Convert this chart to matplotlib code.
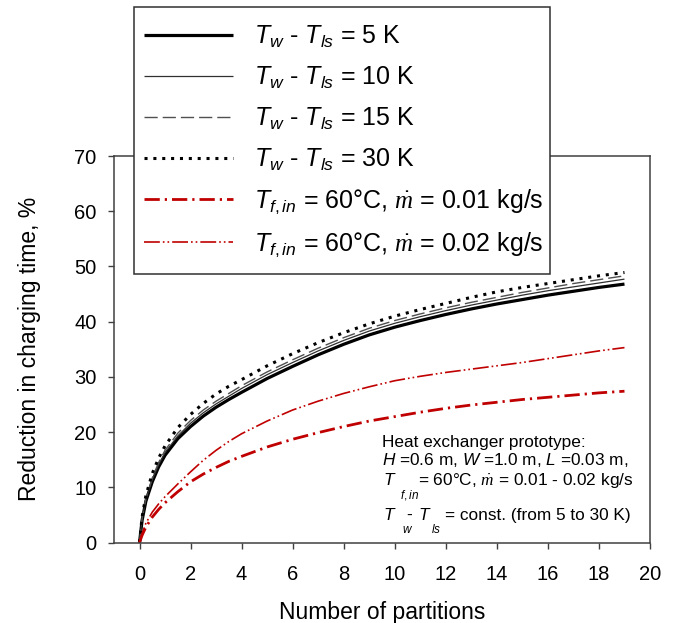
import matplotlib

matplotlib.use("Agg")
import matplotlib.pyplot as plt
from matplotlib.lines import Line2D
from matplotlib.patches import Rectangle

plt.rcParams["font.family"] = ["Liberation Sans", "DejaVu Sans"]
plt.rcParams["mathtext.fontset"] = "custom"
plt.rcParams["mathtext.rm"] = "Liberation Sans"
plt.rcParams["mathtext.it"] = "Liberation Sans:italic"
plt.rcParams["mathtext.cal"] = "Liberation Serif:italic"

# Number of partitions and the reduction in charging time (%) per case
partitions = [0, 0.1, 0.25, 0.5, 0.75, 1, 1.5, 2, 2.5, 3, 3.5, 4, 5, 6, 7, 8, 9, 10,
              11, 12, 13, 14, 15, 16, 17, 18, 19]
dt_5K = [0, 4.0, 7.5, 11.0, 13.7, 15.8, 18.8, 21.0, 22.9, 24.5, 25.9, 27.2, 29.7, 31.9,
         34.0, 35.9, 37.6, 39.0, 40.2, 41.3, 42.3, 43.2, 44.0, 44.8, 45.5, 46.2, 46.8]
dt_10K = [0, 4.2, 7.8, 11.4, 14.1, 16.3, 19.3, 21.6, 23.5, 25.1, 26.5, 27.9, 30.4, 32.6,
          34.7, 36.6, 38.3, 39.7, 40.9, 42.0, 43.0, 43.9, 44.8, 45.6, 46.3, 47.0, 47.7]
dt_15K = [0, 4.3, 8.0, 11.7, 14.5, 16.7, 19.8, 22.1, 24.0, 25.6, 27.0, 28.4, 30.9, 33.1,
          35.2, 37.1, 38.8, 40.2, 41.4, 42.5, 43.5, 44.4, 45.3, 46.1, 46.9, 47.6, 48.3]
dt_30K = [0, 4.6, 8.5, 12.5, 15.3, 17.5, 20.8, 23.2, 25.2, 26.9, 28.3, 29.5, 32.0, 34.2,
          36.2, 38.0, 39.6, 41.0, 42.2, 43.3, 44.4, 45.4, 46.2, 46.9, 47.6, 48.3, 48.9]
flow_001 = [0, 1.3, 2.8, 4.6, 6.0, 7.2, 9.2, 11.0, 12.4, 13.6, 14.7, 15.6, 17.3, 18.7,
            19.9, 21.0, 22.0, 22.8, 23.6, 24.3, 24.9, 25.4, 25.9, 26.3, 26.7, 27.1, 27.4]
flow_002 = [0, 1.6, 3.5, 5.5, 7.0, 8.3, 10.6, 12.8, 14.9, 16.7, 18.3, 19.7, 22.0, 24.0,
            25.6, 27.0, 28.2, 29.3, 30.1, 30.8, 31.4, 32.0, 32.6, 33.3, 34.0, 34.7, 35.3]

RED = "#c00000"
W_PX, H_PX = 678, 623


def _px(x, y):
    # pixel position (top-left origin) -> figure fraction
    return x / W_PX, 1 - y / H_PX


fig = plt.figure(figsize=(W_PX / 100, H_PX / 100), dpi=100)
ax = fig.add_axes([114 / W_PX, 1 - 542.5 / H_PX, (650 - 114) / W_PX, (542.5 - 156) / H_PX])

series = [
    (dt_5K, dict(color="black", lw=2.3, ls="-"), r"$T_{w}$ - $T_{ls}$ = 5 K"),
    (dt_10K, dict(color="#303030", lw=0.9, ls="-"), r"$T_{w}$ - $T_{ls}$ = 10 K"),
    (dt_15K, dict(color="#505050", lw=1.0, ls=(0, (9.5, 3.6))), r"$T_{w}$ - $T_{ls}$ = 15 K"),
    (dt_30K, dict(color="black", lw=2.2, ls=(0, (1, 1.9))), r"$T_{w}$ - $T_{ls}$ = 30 K"),
    (flow_001, dict(color=RED, lw=2.0, ls=(0, (5.5, 1.8, 0.8, 1.8))),
     r"$T_{f,in}$ = 60°C, $\dot{\mathcal{m}}$ = 0.01 kg/s"),
    (flow_002, dict(color=RED, lw=1.2, ls=(0, (9.5, 1.8, 1.0, 1.8, 1.0, 1.8))),
     r"$T_{f,in}$ = 60°C, $\dot{\mathcal{m}}$ = 0.02 kg/s"),
]

handles = []
for values, style, label in series:
    ax.plot(partitions, values, solid_capstyle="butt", dash_capstyle="butt", **style)
    handles.append(Line2D([], [], solid_capstyle="butt", dash_capstyle="butt", **style))

ax.set_xlim(-1, 20)
ax.set_ylim(0, 70)
ax.set_xticks(range(0, 21, 2))
ax.set_yticks(range(0, 71, 10))
for side in ["left", "bottom", "top", "right"]:
    ax.spines[side].set_color("#404040")
    ax.spines[side].set_linewidth(1.1)
ax.tick_params(direction="out", length=4.5, width=1.0, color="#404040", labelsize=14.5,
               top=False, right=False)
ax.tick_params(axis="x", pad=12)
ax.tick_params(axis="y", pad=8)
ax.set_xlabel("Number of partitions", fontsize=16.5, labelpad=12)
ax.set_ylabel("Reduction in charging time, %", fontsize=16.5, labelpad=24)

# legend box drawn separately so it can overlap the top of the axes
box_x0, box_y0 = _px(134, 274)
box_x1, box_y1 = _px(550, 7)
fig.patches.append(Rectangle((box_x0, box_y0), box_x1 - box_x0, box_y1 - box_y0,
                             transform=fig.transFigure, facecolor="white",
                             edgecolor="#303030", linewidth=1.1, zorder=4))

leg = fig.legend(handles, [s[2] for s in series], loc="upper left",
                 bbox_to_anchor=_px(144, 24), bbox_transform=fig.transFigure,
                 fontsize=18, handlelength=3.56, handletextpad=0.85, labelspacing=0.59,
                 borderpad=0, borderaxespad=0, frameon=False)
leg.set_zorder(5)

# prototype description, subscripts set low under the symbols
note_fs = 12.4
sub_fs = 8.5
notes = [
    ("Heat exchanger prototype:", 382, 447, note_fs),
    (r"$H$ =0.6 m, $W$ =1.0 m, $L$ =0.03 m,", 382, 465, note_fs),
    (r"$T$", 383, 485, note_fs),
    (r"= 60°C, $\dot{\mathcal{m}}$ = 0.01 - 0.02 kg/s", 418, 485, note_fs),
    (r"$f,in$", 400, 498, sub_fs),
    (r"$T$", 383, 520, note_fs),
    ("-", 406, 520, note_fs),
    (r"$T$", 418, 520, note_fs),
    ("= const. (from 5 to 30 K)", 445, 520, note_fs),
    (r"$w$", 402, 533, sub_fs),
    (r"$ls$", 431, 533, sub_fs),
]
for text, x, y, fs in notes:
    fig.text(*_px(x, y), text, fontsize=fs, ha="left", va="baseline")

fig.savefig("out.png", dpi=100, facecolor="white")
